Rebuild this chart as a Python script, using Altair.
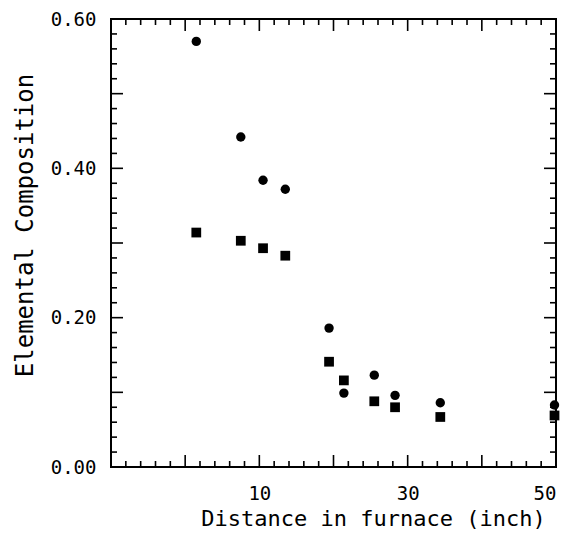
import altair as alt
import pandas as pd

# ---- data ----
distance = [1.5, 7.5, 10.5, 13.5, 19.4, 21.4, 25.5, 28.3, 34.4, 49.8]
circle_comp = [0.570, 0.442, 0.384, 0.372, 0.186, 0.099, 0.123, 0.096, 0.086, 0.083]
square_comp = [0.314, 0.303, 0.293, 0.283, 0.141, 0.116, 0.088, 0.080, 0.067, 0.069]

x_labels = [10, 30, 50]
y_labels = [0.0, 0.2, 0.4, 0.6]
x_major = [0, 10, 20, 30, 40]
x_minor = [v for v in range(-8, 50, 2) if v % 10 != 0]
y_major = [0.1, 0.2, 0.3, 0.4, 0.5]
y_minor = [round(i * 0.02, 2) for i in range(1, 30) if i % 5 != 0]

W, H = 445, 448
FONT = "DejaVu Sans Mono"
MAJ, MIN = 12, 6

xs = alt.Scale(domain=[-10, 50], nice=False, zero=False)
ys = alt.Scale(domain=[0, 0.6], nice=False, zero=False)

pts = pd.DataFrame({"d": distance, "c": circle_comp, "s": square_comp})

x_axis = alt.Axis(
    values=x_labels, title="Distance in furnace (inch)", ticks=False, domain=False,
    grid=False, labelPadding=17, labelFontSize=19, labelFont=FONT, labelColor="black",
    titleFont=FONT, titleFontSize=22, titleFontWeight="normal", titleColor="black",
    titleX=262, titleY=51, titleBaseline="middle", titleAlign="center",
)
y_axis = alt.Axis(
    values=y_labels, format=".2f", title="Elemental Composition", ticks=False, domain=False,
    grid=False, labelPadding=15, labelFontSize=19, labelFont=FONT, labelColor="black",
    titleFont=FONT, titleFontSize=24, titleFontWeight="normal", titleColor="black",
    titleX=-86, titleY=206, titleBaseline="middle", titleAlign="center", titleAngle=270,
)

circles = alt.Chart(pts).mark_point(
    shape="circle", filled=True, size=88, color="black", opacity=1, clip=False
).encode(
    x=alt.X("d:Q", scale=xs, axis=x_axis),
    y=alt.Y("c:Q", scale=ys, axis=y_axis),
)
squares = alt.Chart(pts).mark_point(
    shape="square", filled=True, size=95, color="black", opacity=1, clip=False
).encode(
    x=alt.X("d:Q", scale=xs, axis=x_axis),
    y=alt.Y("s:Q", scale=ys, axis=y_axis),
)


def xticks(vals, length):
    df = pd.DataFrame({"v": vals})
    base = alt.Chart(df).mark_rule(color="black", strokeWidth=1.6)
    bottom = base.encode(x=alt.X("v:Q", scale=xs, axis=x_axis),
                         y=alt.value(H), y2=alt.value(H - length))
    top = base.encode(x=alt.X("v:Q", scale=xs, axis=x_axis),
                      y=alt.value(0), y2=alt.value(length))
    return [bottom, top]


def yticks(vals, length):
    df = pd.DataFrame({"v": vals})
    base = alt.Chart(df).mark_rule(color="black", strokeWidth=1.6)
    left = base.encode(y=alt.Y("v:Q", scale=ys, axis=y_axis),
                       x=alt.value(0), x2=alt.value(length))
    right = base.encode(y=alt.Y("v:Q", scale=ys, axis=y_axis),
                        x=alt.value(W), x2=alt.value(W - length))
    return [left, right]


layers = ([circles, squares]
          + xticks(x_major, MAJ) + xticks(x_minor, MIN)
          + yticks(y_major, MAJ) + yticks(y_minor, MIN))

chart = alt.layer(*layers).properties(
    width=W, height=H,
    autosize=alt.AutoSizeParams(type="none"),
    padding={"left": 103, "top": 11, "right": 13, "bottom": 65},
    background="white",
).configure_view(stroke="black", strokeWidth=2)

chart.save("out.html", embed_options={"renderer": "svg", "actions": False})
